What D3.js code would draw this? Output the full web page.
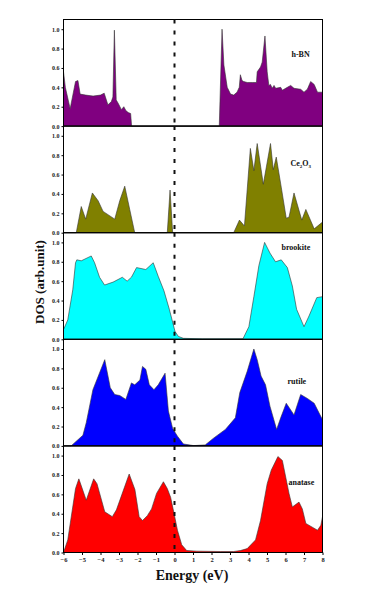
<!DOCTYPE html>
<html>
<head>
<meta charset="utf-8">
<script src="https://cdn.jsdelivr.net/npm/d3@7"></script>
<style>
  body { margin: 0; background: #fff; }
  svg text { font-family: "Liberation Serif", "Times New Roman", serif; font-weight: bold; }
</style>
</head>
<body>
<div id="chart"></div>
<script>
// energy (eV), DOS pairs
const hBN = [[-6,0.56],[-5.9,0.4],[-5.64,0.18],[-5.35,0.46],[-5.22,0.47],[-5.1,0.33],[-4.8,0.32],[-4.4,0.31],[-4.0,0.32],[-3.8,0.34],[-3.6,0.22],[-3.42,0.25],[-3.33,0.3],[-3.25,0.99],[-3.15,0.27],[-3.03,0.23],[-2.87,0.17],[-2.74,0.2],[-2.63,0.16],[-2.5,0.14],[-2.37,0.13],[-2.32,0],
  [2.42,0],[2.57,1.0],[2.67,0.63],[2.85,0.4],[3.03,0.33],[3.2,0.32],[3.38,0.35],[3.5,0.4],[3.56,0.53],[3.65,0.47],[3.74,0.46],[3.93,0.45],[4.2,0.45],[4.43,0.45],[4.47,0.56],[4.65,0.61],[4.74,0.66],[4.89,0.93],[5.01,0.56],[5.1,0.42],[5.19,0.43],[5.28,0.39],[5.38,0.42],[5.47,0.39],[5.74,0.4],[5.83,0.37],[6.1,0.4],[6.28,0.42],[6.46,0.39],[6.82,0.38],[7.0,0.35],[7.18,0.38],[7.36,0.46],[7.55,0.43],[7.73,0.35],[8.0,0.35]];
const ce2o3 = [[-6,0],[-5.31,0],[-5.04,0.27],[-4.8,0.14],[-4.44,0.41],[-4.13,0.33],[-3.86,0.22],[-3.23,0.14],[-2.96,0.33],[-2.69,0.48],[-2.42,0.24],[-2.15,0],[-0.39,0],[-0.24,0.44],[-0.1,0],
  [3.2,0],[3.51,0.13],[3.78,0.07],[4.1,0.87],[4.29,0.64],[4.47,0.92],[4.8,0.5],[5.19,0.92],[5.34,0.65],[5.5,0.78],[5.77,0.47],[6.04,0.15],[6.19,0.16],[6.46,0.41],[6.88,0.13],[7.1,0.24],[7.55,0.04],[8.0,0.11]];
const brookite = [[-6,0.1],[-5.77,0.2],[-5.5,0.51],[-5.35,0.79],[-5.28,0.82],[-5.04,0.81],[-4.5,0.86],[-4.32,0.79],[-4.05,0.64],[-3.78,0.56],[-3.32,0.59],[-2.82,0.64],[-2.56,0.6],[-2.33,0.64],[-2.05,0.74],[-1.55,0.72],[-1.15,0.79],[-0.88,0.65],[-0.57,0.5],[-0.28,0.31],[0.03,0.08],[0.21,0.03],[0.48,0.01],[1.5,0.005],[3.7,0.005],[4.02,0.13],[4.29,0.44],[4.56,0.76],[4.87,1.0],[5.16,0.89],[5.46,0.8],[5.77,0.82],[6.1,0.74],[6.37,0.55],[6.6,0.31],[7.0,0.13],[7.27,0.24],[7.69,0.43],[8.0,0.44]];
const rutile = [[-6,0],[-5.59,0],[-4.95,0.11],[-4.77,0.24],[-4.41,0.58],[-3.77,0.89],[-3.47,0.6],[-3.23,0.53],[-2.96,0.52],[-2.63,0.48],[-2.33,0.65],[-2.15,0.63],[-1.87,0.68],[-1.73,0.82],[-1.55,0.79],[-1.36,0.63],[-1.11,0.58],[-0.88,0.63],[-0.51,0.75],[-0.33,0.36],[-0.1,0.18],[0.16,0.1],[0.48,0.02],[1.03,0.003],[1.66,0.01],[2.11,0.08],[2.75,0.17],[3.29,0.29],[3.53,0.55],[3.93,0.77],[4.29,1.0],[4.47,0.89],[4.68,0.72],[4.92,0.63],[5.16,0.41],[5.52,0.17],[5.74,0.29],[6.04,0.44],[6.46,0.32],[6.82,0.53],[7.18,0.49],[7.55,0.44],[8.0,0.27]];
const anatase = [[-6,0],[-5.77,0.13],[-5.35,0.66],[-5.17,0.76],[-4.77,0.54],[-4.37,0.76],[-4.19,0.71],[-3.77,0.42],[-3.36,0.37],[-3.14,0.44],[-2.45,0.81],[-2.14,0.65],[-1.91,0.37],[-1.73,0.33],[-1.47,0.38],[-1.24,0.45],[-0.97,0.61],[-0.6,0.73],[-0.39,0.66],[-0.21,0.57],[-0.02,0.4],[0.16,0.23],[0.39,0.08],[0.66,0.02],[1.21,0.014],[2.5,0.01],[3.2,0.01],[3.56,0.02],[3.93,0.04],[4.38,0.13],[4.65,0.33],[5.01,0.71],[5.23,0.85],[5.59,0.99],[5.83,0.95],[6.19,0.61],[6.37,0.47],[6.73,0.52],[6.91,0.45],[7.1,0.3],[7.73,0.23],[7.91,0.28],[8.0,0.37]];

const panelNames = ["h-BN", "Ce2O3", "brookite", "rutile", "anatase"];
const panelColors = ["#800080", "#808000", "#00ffff", "#0000ff", "#ff0000"];
const panelData = [hBN, ce2o3, brookite, rutile, anatase];
const yTicks = [0, 0.2, 0.4, 0.6, 0.8, 1.0];
const xTicks = [-6, -5, -4, -3, -2, -1, 0, 1, 2, 3, 4, 5, 6, 7, 8];

const W = 370, H = 593;
const margin = {top: 19.5, left: 63.5, right: 47.5, bottom: 40.5};
const width = W - margin.left - margin.right;
const panelH = (H - margin.top - margin.bottom) / 5;

const svg = d3.select("#chart").append("svg")
  .attr("width", W).attr("height", H);

const x = d3.scaleLinear().domain([-6, 8]).range([0, width]);
const y = d3.scaleLinear().domain([0, 1.1]).range([panelH, 0]);

const area = d3.area()
  .x(d => x(d[0]))
  .y0(y(0))
  .y1(d => y(d[1]));

panelData.forEach((data, i) => {
  const g = svg.append("g")
    .attr("transform", "translate(" + margin.left + "," + (margin.top + i * panelH) + ")");

  g.append("path")
    .datum(data)
    .attr("d", area)
    .attr("fill", panelColors[i])
    .attr("stroke", "#333")
    .attr("stroke-width", 0.6);

  g.append("rect")
    .attr("width", width).attr("height", panelH)
    .attr("fill", "none").attr("stroke", "#000").attr("stroke-width", 1);

  const yAxis = g.append("g")
    .call(d3.axisLeft(y).tickValues(yTicks).tickFormat(d3.format(".1f")).tickSize(2).tickPadding(2));
  yAxis.select(".domain").remove();
  yAxis.selectAll("text").attr("font-size", 6).attr("fill", "#222");

  // fermi level
  g.append("line")
    .attr("x1", x(0)).attr("x2", x(0))
    .attr("y1", 0).attr("y2", panelH)
    .attr("stroke", "#111").attr("stroke-width", 2)
    .attr("stroke-dasharray", "4,7");

  // panel label
  const lab = g.append("text")
    .attr("x", width - 30).attr("y", [37, 40, 17, 45, 39][i])
    .attr("font-size", 8).attr("fill", "#111");
  if (panelNames[i] === "Ce2O3") {
    lab.append("tspan").text("Ce");
    lab.append("tspan").text("2").attr("font-size", 5).attr("dy", 2);
    lab.append("tspan").text("O").attr("dy", -2);
    lab.append("tspan").text("3").attr("font-size", 5).attr("dy", 2);
  } else {
    lab.text(panelNames[i]);
  }
  if (i === 2) lab.attr("x", width - 41);
  if (i === 3) lab.attr("x", width - 35);
  if (i === 4) lab.attr("x", width - 34);
  if (i === 0) lab.attr("x", width - 31);
  if (i === 1) lab.attr("x", width - 32);
});

const xAxis = svg.append("g")
  .attr("transform", "translate(" + margin.left + "," + (margin.top + 5 * panelH) + ")")
  .call(d3.axisBottom(x).tickValues(xTicks).tickFormat(d3.format("d")).tickSize(2.5).tickPadding(2));
xAxis.select(".domain").remove();
xAxis.selectAll("text").attr("font-size", 6.5).attr("fill", "#222");

svg.append("text")
  .attr("x", margin.left + width / 2 - 1).attr("y", 580)
  .attr("text-anchor", "middle").attr("font-size", 14).attr("fill", "#111")
  .text("Energy (eV)");

svg.append("text")
  .attr("transform", "translate(44,282) rotate(-90)")
  .attr("text-anchor", "middle").attr("font-size", 13).attr("fill", "#111")
  .text("DOS (arb.unit)");
</script>
</body>
</html>
